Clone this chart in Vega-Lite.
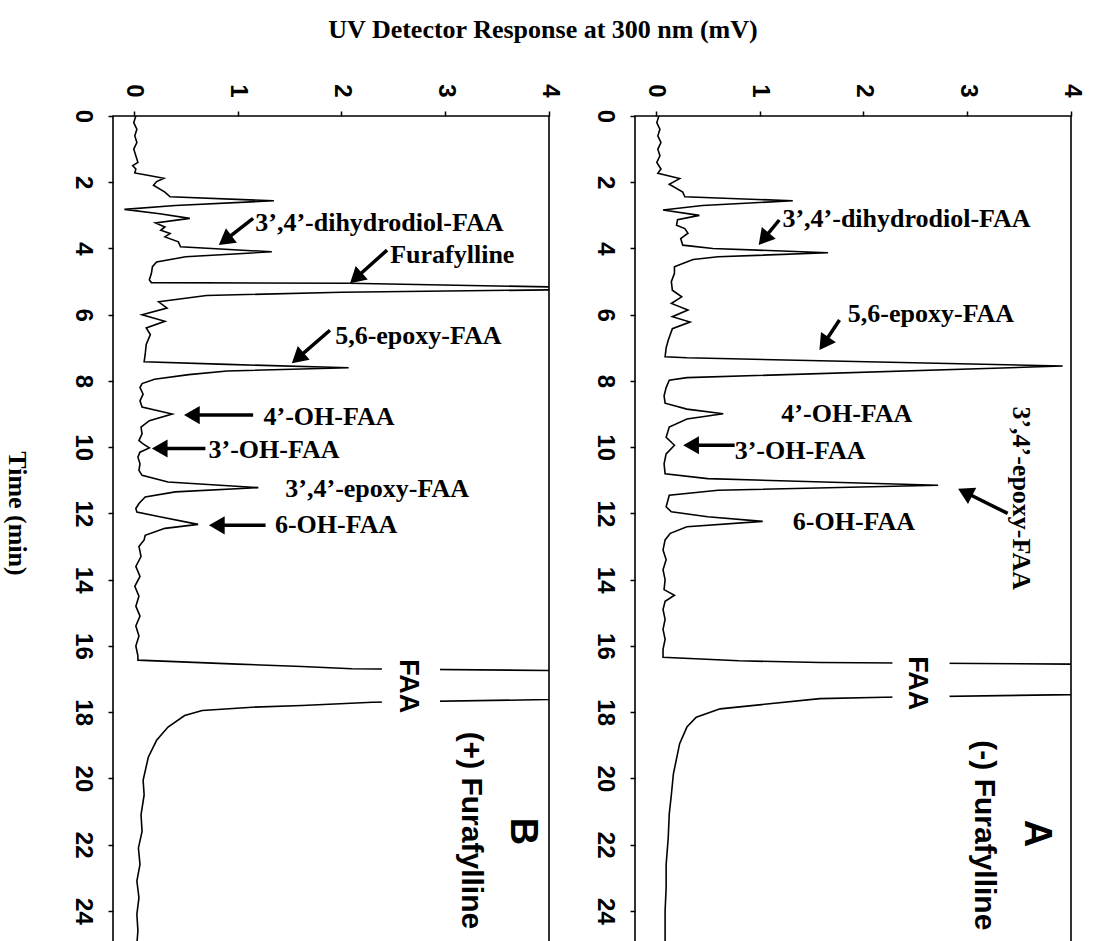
{
  "$schema": "https://vega.github.io/schema/vega-lite/v6.json",
  "autosize": {"type": "pad"},
  "padding": {"left": 2, "top": 16, "right": 20, "bottom": 0},
  "background": "white",
  "title": {"text": "UV Detector Response at 300 nm (mV)", "anchor": "middle", "font": "Liberation Serif", "fontWeight": "bold", "fontSize": 26, "color": "black", "offset": 40},
  "datasets": {
    "traceB": [
      {"t": 0.0, "v": 0.02}, {"t": 0.2, "v": 0.0}, {"t": 0.4, "v": 0.03}, {"t": 0.6, "v": 0.01}, {"t": 0.8, "v": 0.03},
      {"t": 1.0, "v": 0.0}, {"t": 1.2, "v": 0.02}, {"t": 1.4, "v": 0.04}, {"t": 1.5, "v": -0.01}, {"t": 1.6, "v": 0.02},
      {"t": 1.72, "v": 0.01}, {"t": 1.78, "v": 0.12}, {"t": 1.88, "v": 0.29}, {"t": 1.98, "v": 0.22}, {"t": 2.09, "v": 0.19},
      {"t": 2.3, "v": 0.3}, {"t": 2.44, "v": 0.35}, {"t": 2.56, "v": 1.35}, {"t": 2.7, "v": 0.4}, {"t": 2.82, "v": -0.09},
      {"t": 2.95, "v": 0.25}, {"t": 3.09, "v": 0.54}, {"t": 3.23, "v": 0.21}, {"t": 3.35, "v": 0.3}, {"t": 3.45, "v": 0.26},
      {"t": 3.55, "v": 0.35}, {"t": 3.65, "v": 0.3}, {"t": 3.8, "v": 0.43}, {"t": 3.95, "v": 0.45}, {"t": 4.1, "v": 1.33},
      {"t": 4.25, "v": 0.5}, {"t": 4.41, "v": 0.22}, {"t": 4.55, "v": 0.18}, {"t": 4.75, "v": 0.17}, {"t": 4.95, "v": 0.15},
      {"t": 5.03, "v": 0.17}, {"t": 5.05, "v": 2.07}, {"t": 5.16, "v": 4.0}, {"t": 5.2, "v": 4.5}, {"t": 5.25, "v": 4.0},
      {"t": 5.32, "v": 2.0}, {"t": 5.42, "v": 0.7}, {"t": 5.61, "v": 0.24}, {"t": 5.8, "v": 0.32}, {"t": 6.0, "v": 0.08},
      {"t": 6.2, "v": 0.3}, {"t": 6.4, "v": 0.12}, {"t": 6.6, "v": 0.16}, {"t": 6.9, "v": 0.12}, {"t": 7.2, "v": 0.11},
      {"t": 7.42, "v": 0.1}, {"t": 7.5, "v": 0.9}, {"t": 7.6, "v": 2.07}, {"t": 7.7, "v": 0.9}, {"t": 7.81, "v": 0.53},
      {"t": 7.95, "v": 0.2}, {"t": 8.08, "v": 0.08}, {"t": 8.2, "v": 0.06}, {"t": 8.4, "v": 0.09}, {"t": 8.6, "v": 0.06},
      {"t": 8.79, "v": 0.08}, {"t": 9.0, "v": 0.37}, {"t": 9.2, "v": 0.15}, {"t": 9.39, "v": 0.07}, {"t": 9.6, "v": 0.08},
      {"t": 9.8, "v": 0.05}, {"t": 9.9, "v": 0.09}, {"t": 10.02, "v": 0.15}, {"t": 10.15, "v": 0.06}, {"t": 10.3, "v": 0.04},
      {"t": 10.5, "v": 0.06}, {"t": 10.7, "v": 0.05}, {"t": 10.85, "v": 0.08}, {"t": 11.05, "v": 0.33}, {"t": 11.22, "v": 1.2},
      {"t": 11.35, "v": 0.4}, {"t": 11.5, "v": 0.11}, {"t": 11.7, "v": 0.05}, {"t": 11.85, "v": 0.02}, {"t": 11.96, "v": 0.03},
      {"t": 12.1, "v": 0.25}, {"t": 12.33, "v": 0.62}, {"t": 12.45, "v": 0.3}, {"t": 12.66, "v": 0.11}, {"t": 12.8, "v": 0.1},
      {"t": 13.0, "v": 0.05}, {"t": 13.3, "v": 0.07}, {"t": 13.6, "v": 0.02}, {"t": 13.9, "v": 0.06}, {"t": 14.2, "v": 0.01},
      {"t": 14.5, "v": 0.05}, {"t": 14.8, "v": 0.02}, {"t": 15.1, "v": 0.06}, {"t": 15.4, "v": 0.02}, {"t": 15.7, "v": 0.05},
      {"t": 16.0, "v": 0.02}, {"t": 16.3, "v": 0.04}, {"t": 16.43, "v": 0.04}, {"t": 16.55, "v": 1.0}, {"t": 16.62, "v": 1.62},
      {"t": 16.69, "v": 2.1}, {"t": 16.74, "v": 4.0}, {"t": 17.1, "v": 7.0}, {"t": 17.62, "v": 4.0}, {"t": 17.7, "v": 2.3},
      {"t": 17.8, "v": 1.62}, {"t": 17.85, "v": 1.14}, {"t": 17.95, "v": 0.66}, {"t": 18.1, "v": 0.49}, {"t": 18.45, "v": 0.33},
      {"t": 18.85, "v": 0.22}, {"t": 19.36, "v": 0.14}, {"t": 20.06, "v": 0.09}, {"t": 20.5, "v": 0.1}, {"t": 21.1, "v": 0.07},
      {"t": 21.6, "v": 0.08}, {"t": 22.1, "v": 0.045}, {"t": 22.6, "v": 0.06}, {"t": 23.1, "v": 0.03}, {"t": 23.6, "v": 0.05},
      {"t": 24.1, "v": 0.03}, {"t": 24.6, "v": 0.04}, {"t": 25.0, "v": 0.03}
    ],
    "traceA": [
      {"t": 0.0, "v": 0.03}, {"t": 0.2, "v": 0.01}, {"t": 0.4, "v": 0.04}, {"t": 0.6, "v": 0.02}, {"t": 0.8, "v": 0.05},
      {"t": 1.0, "v": 0.02}, {"t": 1.2, "v": 0.04}, {"t": 1.4, "v": 0.01}, {"t": 1.6, "v": 0.05}, {"t": 1.73, "v": 0.02},
      {"t": 1.89, "v": 0.23}, {"t": 2.06, "v": 0.13}, {"t": 2.3, "v": 0.26}, {"t": 2.44, "v": 0.28}, {"t": 2.56, "v": 1.32},
      {"t": 2.7, "v": 0.45}, {"t": 2.84, "v": 0.07}, {"t": 3.0, "v": 0.42}, {"t": 3.13, "v": 0.21}, {"t": 3.3, "v": 0.2},
      {"t": 3.4, "v": 0.28}, {"t": 3.54, "v": 0.31}, {"t": 3.7, "v": 0.24}, {"t": 3.9, "v": 0.26}, {"t": 4.0, "v": 0.55},
      {"t": 4.13, "v": 1.66}, {"t": 4.25, "v": 0.6}, {"t": 4.33, "v": 0.36}, {"t": 4.45, "v": 0.26}, {"t": 4.55, "v": 0.18},
      {"t": 4.75, "v": 0.18}, {"t": 5.0, "v": 0.15}, {"t": 5.26, "v": 0.16}, {"t": 5.46, "v": 0.25}, {"t": 5.66, "v": 0.15},
      {"t": 5.86, "v": 0.31}, {"t": 6.06, "v": 0.16}, {"t": 6.22, "v": 0.33}, {"t": 6.42, "v": 0.16}, {"t": 6.6, "v": 0.14},
      {"t": 6.77, "v": 0.12}, {"t": 7.0, "v": 0.1}, {"t": 7.27, "v": 0.09}, {"t": 7.3, "v": 0.3}, {"t": 7.55, "v": 3.92},
      {"t": 7.9, "v": 0.3}, {"t": 7.98, "v": 0.13}, {"t": 8.2, "v": 0.1}, {"t": 8.45, "v": 0.08}, {"t": 8.67, "v": 0.09},
      {"t": 8.85, "v": 0.3}, {"t": 8.99, "v": 0.65}, {"t": 9.15, "v": 0.3}, {"t": 9.39, "v": 0.13}, {"t": 9.7, "v": 0.1},
      {"t": 9.94, "v": 0.18}, {"t": 10.2, "v": 0.1}, {"t": 10.5, "v": 0.08}, {"t": 10.8, "v": 0.09}, {"t": 10.95, "v": 0.5},
      {"t": 11.15, "v": 2.72}, {"t": 11.3, "v": 0.6}, {"t": 11.45, "v": 0.13}, {"t": 11.8, "v": 0.1}, {"t": 11.95, "v": 0.15},
      {"t": 12.1, "v": 0.5}, {"t": 12.24, "v": 1.03}, {"t": 12.4, "v": 0.3}, {"t": 12.6, "v": 0.14}, {"t": 12.8, "v": 0.09},
      {"t": 13.1, "v": 0.07}, {"t": 13.4, "v": 0.1}, {"t": 13.7, "v": 0.07}, {"t": 14.0, "v": 0.09}, {"t": 14.3, "v": 0.08},
      {"t": 14.47, "v": 0.18}, {"t": 14.65, "v": 0.09}, {"t": 14.9, "v": 0.07}, {"t": 15.2, "v": 0.09}, {"t": 15.5, "v": 0.07},
      {"t": 15.8, "v": 0.09}, {"t": 16.1, "v": 0.07}, {"t": 16.34, "v": 0.07}, {"t": 16.45, "v": 0.8}, {"t": 16.5, "v": 1.58},
      {"t": 16.55, "v": 4.0}, {"t": 17.0, "v": 7.0}, {"t": 17.47, "v": 4.0}, {"t": 17.55, "v": 2.2}, {"t": 17.59, "v": 1.58},
      {"t": 17.9, "v": 0.62}, {"t": 18.15, "v": 0.39}, {"t": 18.45, "v": 0.3}, {"t": 18.95, "v": 0.23}, {"t": 19.86, "v": 0.17},
      {"t": 20.5, "v": 0.15}, {"t": 21.07, "v": 0.13}, {"t": 21.8, "v": 0.12}, {"t": 22.6, "v": 0.1}, {"t": 23.3, "v": 0.1},
      {"t": 24.0, "v": 0.09}, {"t": 25.0, "v": 0.09}
    ],
    "masks": [
      {"panel": "B", "v": 2.39, "v2": 2.95, "t": 16.3, "t2": 18.0},
      {"panel": "A", "v": 2.28, "v2": 2.83, "t": 16.3, "t2": 18.0}
    ],
    "arrows": [
      {"panel": "B", "v": 1.15, "t": 3.09, "v2": 0.88, "t2": 3.75, "dir": 233},
      {"panel": "B", "v": 2.44, "t": 4.05, "v2": 2.14, "t2": 4.89, "dir": 228},
      {"panel": "B", "v": 1.89, "t": 6.47, "v2": 1.58, "t2": 7.31, "dir": 229},
      {"panel": "B", "v": 1.15, "t": 9.03, "v2": 0.56, "t2": 9.03, "dir": 270},
      {"panel": "B", "v": 0.69, "t": 10.04, "v2": 0.25, "t2": 10.04, "dir": 270},
      {"panel": "B", "v": 1.27, "t": 12.36, "v2": 0.8, "t2": 12.36, "dir": 270},
      {"panel": "A", "v": 1.19, "t": 3.14, "v2": 1.04, "t2": 3.71, "dir": 220},
      {"panel": "A", "v": 1.77, "t": 6.16, "v2": 1.62, "t2": 6.87, "dir": 215},
      {"panel": "A", "v": 0.76, "t": 9.94, "v2": 0.34, "t2": 9.94, "dir": 270},
      {"panel": "A", "v": 3.39, "t": 12.0, "v2": 2.98, "t2": 11.36, "dir": 297}
    ],
    "labels": [
      {"panel": "B", "kind": "flat", "label": "3’,4’-dihydrodiol-FAA", "v": 1.17, "t": 3.22},
      {"panel": "B", "kind": "flat", "label": "Furafylline", "v": 2.47, "t": 4.2},
      {"panel": "B", "kind": "flat", "label": "5,6-epoxy-FAA", "v": 1.94, "t": 6.65},
      {"panel": "B", "kind": "flat", "label": "4’-OH-FAA", "v": 1.25, "t": 9.1},
      {"panel": "B", "kind": "flat", "label": "3’-OH-FAA", "v": 0.72, "t": 10.09},
      {"panel": "B", "kind": "flat", "label": "3’,4’-epoxy-FAA", "v": 1.46, "t": 11.27},
      {"panel": "B", "kind": "flat", "label": "6-OH-FAA", "v": 1.36, "t": 12.36},
      {"panel": "A", "kind": "flat", "label": "3’,4’-dihydrodiol-FAA", "v": 1.22, "t": 3.11},
      {"panel": "A", "kind": "flat", "label": "5,6-epoxy-FAA", "v": 1.85, "t": 5.99},
      {"panel": "A", "kind": "flat", "label": "4’-OH-FAA", "v": 1.21, "t": 9.0},
      {"panel": "A", "kind": "flat", "label": "3’-OH-FAA", "v": 0.76, "t": 10.12},
      {"panel": "A", "kind": "flat", "label": "6-OH-FAA", "v": 1.32, "t": 12.27},
      {"panel": "A", "kind": "turned", "label": "3’,4’-epoxy-FAA", "v": 3.52, "t": 11.54},
      {"panel": "B", "kind": "faa", "label": "FAA", "v": 2.64, "t": 17.22},
      {"panel": "A", "kind": "faa", "label": "FAA", "v": 2.52, "t": 17.13},
      {"panel": "B", "kind": "cond", "label": "(+) Furafylline", "v": 3.25, "t": 21.57},
      {"panel": "A", "kind": "cond", "label": "(-) Furafylline", "v": 3.16, "t": 21.72},
      {"panel": "B", "kind": "letter", "label": "B", "v": 3.74, "t": 21.6},
      {"panel": "A", "kind": "letter", "label": "A", "v": 3.66, "t": 21.66}
    ]
  },
  "spacing": 86,
  "bounds": "flush",
  "hconcat": [
    {
      "width": 436,
      "height": 828,
      "encoding": {
        "x": {"field": "v", "type": "quantitative", "scale": {"domain": [-0.2, 4], "nice": false, "zero": false},
              "axis": {"orient": "top", "values": [0, 1, 2, 3, 4], "labelAlign": "right", "labelBaseline": "middle", "labelPadding": 14, "title": null}},
        "y": {"field": "t", "type": "quantitative", "scale": {"domain": [0, 25], "nice": false, "zero": false, "reverse": true},
              "axis": {"orient": "left", "values": [0, 2, 4, 6, 8, 10, 12, 14, 16, 18, 20, 22, 24], "labelAlign": "center", "labelBaseline": "top", "labelPadding": 14,
                       "title": "Time (min)", "titleAngle": 90, "titleFont": "Liberation Serif", "titleFontWeight": "bold", "titleFontSize": 26, "titleColor": "black",
                       "titleX": -97, "titleY": 397, "titleAlign": "center", "titleBaseline": "middle"}}
      },
      "layer": [
        {"data": {"name": "traceB"}, "mark": {"type": "line", "clip": true, "color": "black", "strokeWidth": 1.6},
         "encoding": {"order": {"field": "t", "type": "quantitative"}}},
        {"data": {"name": "masks"}, "transform": [{"filter": "datum.panel === 'B'"}], "mark": {"type": "rect", "color": "white"},
         "encoding": {"x2": {"field": "v2"}, "y2": {"field": "t2"}}},
        {"data": {"name": "arrows"}, "transform": [{"filter": "datum.panel === 'B'"}], "mark": {"type": "rule", "color": "black", "strokeWidth": 3.5},
         "encoding": {"x2": {"field": "v2"}, "y2": {"field": "t2"}}},
        {"data": {"name": "arrows"}, "transform": [{"filter": "datum.panel === 'B'"}], "mark": {"type": "point", "shape": "triangle-up", "filled": true, "color": "black", "size": 330, "opacity": 1},
         "encoding": {"x": {"field": "v2", "type": "quantitative"}, "y": {"field": "t2", "type": "quantitative"}, "angle": {"field": "dir", "type": "quantitative", "scale": null}}},
        {"data": {"name": "labels"}, "transform": [{"filter": "datum.panel === 'B' && datum.kind === 'flat'"}],
         "mark": {"type": "text", "font": "Liberation Serif", "fontWeight": "bold", "fontSize": 26, "align": "left", "baseline": "middle", "color": "black"},
         "encoding": {"text": {"field": "label"}}},
        {"data": {"name": "labels"}, "transform": [{"filter": "datum.panel === 'B' && datum.kind === 'faa'"}],
         "mark": {"type": "text", "font": "Liberation Sans", "fontWeight": "bold", "fontSize": 27, "angle": 90, "align": "center", "baseline": "middle", "color": "black"},
         "encoding": {"text": {"field": "label"}}},
        {"data": {"name": "labels"}, "transform": [{"filter": "datum.panel === 'B' && datum.kind === 'cond'"}],
         "mark": {"type": "text", "font": "Liberation Sans", "fontWeight": "bold", "fontSize": 30, "angle": 90, "align": "center", "baseline": "middle", "color": "black"},
         "encoding": {"text": {"field": "label"}}},
        {"data": {"name": "labels"}, "transform": [{"filter": "datum.panel === 'B' && datum.kind === 'letter'"}],
         "mark": {"type": "text", "font": "Liberation Sans", "fontWeight": "bold", "fontSize": 38, "angle": 90, "align": "center", "baseline": "middle", "color": "black"},
         "encoding": {"text": {"field": "label"}}}
      ]
    },
    {
      "width": 436,
      "height": 828,
      "encoding": {
        "x": {"field": "v", "type": "quantitative", "scale": {"domain": [-0.2, 4], "nice": false, "zero": false},
              "axis": {"orient": "top", "values": [0, 1, 2, 3, 4], "labelAlign": "right", "labelBaseline": "middle", "labelPadding": 14, "title": null}},
        "y": {"field": "t", "type": "quantitative", "scale": {"domain": [0, 25], "nice": false, "zero": false, "reverse": true},
              "axis": {"orient": "left", "values": [0, 2, 4, 6, 8, 10, 12, 14, 16, 18, 20, 22, 24], "labelAlign": "center", "labelBaseline": "top", "labelPadding": 14, "title": null}}
      },
      "layer": [
        {"data": {"name": "traceA"}, "mark": {"type": "line", "clip": true, "color": "black", "strokeWidth": 1.6},
         "encoding": {"order": {"field": "t", "type": "quantitative"}}},
        {"data": {"name": "masks"}, "transform": [{"filter": "datum.panel === 'A'"}], "mark": {"type": "rect", "color": "white"},
         "encoding": {"x2": {"field": "v2"}, "y2": {"field": "t2"}}},
        {"data": {"name": "arrows"}, "transform": [{"filter": "datum.panel === 'A'"}], "mark": {"type": "rule", "color": "black", "strokeWidth": 3.5},
         "encoding": {"x2": {"field": "v2"}, "y2": {"field": "t2"}}},
        {"data": {"name": "arrows"}, "transform": [{"filter": "datum.panel === 'A'"}], "mark": {"type": "point", "shape": "triangle-up", "filled": true, "color": "black", "size": 330, "opacity": 1},
         "encoding": {"x": {"field": "v2", "type": "quantitative"}, "y": {"field": "t2", "type": "quantitative"}, "angle": {"field": "dir", "type": "quantitative", "scale": null}}},
        {"data": {"name": "labels"}, "transform": [{"filter": "datum.panel === 'A' && datum.kind === 'flat'"}],
         "mark": {"type": "text", "font": "Liberation Serif", "fontWeight": "bold", "fontSize": 26, "align": "left", "baseline": "middle", "color": "black"},
         "encoding": {"text": {"field": "label"}}},
        {"data": {"name": "labels"}, "transform": [{"filter": "datum.panel === 'A' && datum.kind === 'turned'"}],
         "mark": {"type": "text", "font": "Liberation Serif", "fontWeight": "bold", "fontSize": 26, "angle": 90, "align": "center", "baseline": "middle", "color": "black"},
         "encoding": {"text": {"field": "label"}}},
        {"data": {"name": "labels"}, "transform": [{"filter": "datum.panel === 'A' && datum.kind === 'faa'"}],
         "mark": {"type": "text", "font": "Liberation Sans", "fontWeight": "bold", "fontSize": 27, "angle": 90, "align": "center", "baseline": "middle", "color": "black"},
         "encoding": {"text": {"field": "label"}}},
        {"data": {"name": "labels"}, "transform": [{"filter": "datum.panel === 'A' && datum.kind === 'cond'"}],
         "mark": {"type": "text", "font": "Liberation Sans", "fontWeight": "bold", "fontSize": 30, "angle": 90, "align": "center", "baseline": "middle", "color": "black"},
         "encoding": {"text": {"field": "label"}}},
        {"data": {"name": "labels"}, "transform": [{"filter": "datum.panel === 'A' && datum.kind === 'letter'"}],
         "mark": {"type": "text", "font": "Liberation Sans", "fontWeight": "bold", "fontSize": 38, "angle": 90, "align": "center", "baseline": "middle", "color": "black"},
         "encoding": {"text": {"field": "label"}}}
      ]
    }
  ],
  "config": {
    "view": {"stroke": "black", "strokeWidth": 1.6},
    "axis": {"domain": false, "grid": false, "ticks": true, "tickColor": "black", "tickSize": 5, "tickWidth": 1.5,
             "labelFont": "Liberation Sans", "labelFontWeight": "bold", "labelFontSize": 24, "labelColor": "black", "labelAngle": 90},
    "title": {"color": "black"}
  }
}
